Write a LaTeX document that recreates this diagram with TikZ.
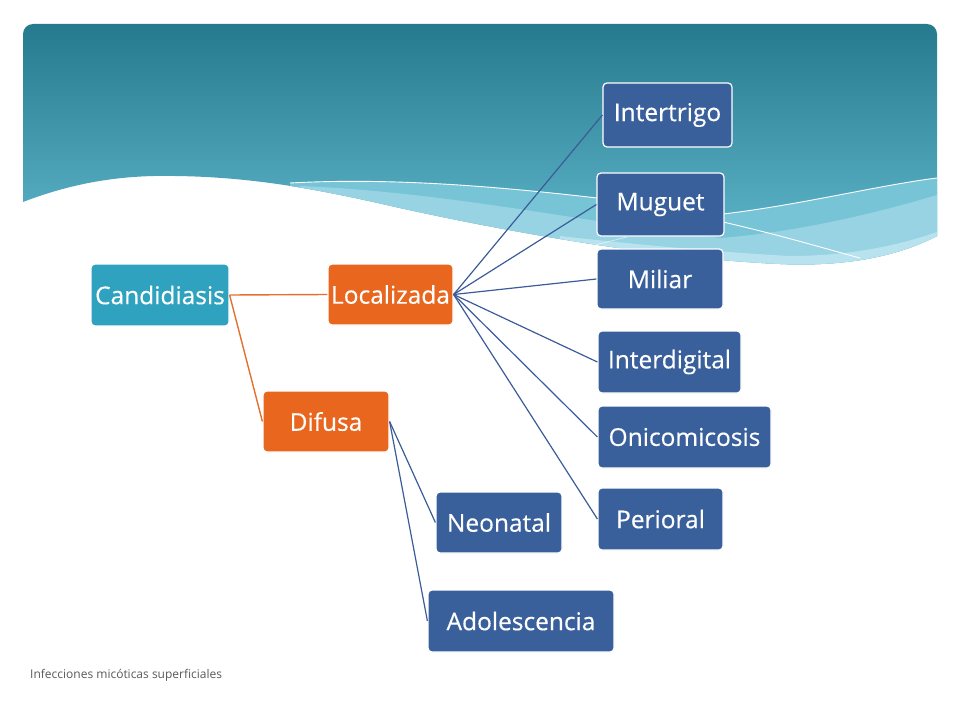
\documentclass[tikz,border=0pt]{standalone}
\usepackage{fontspec}
\setmainfont{Open Sans}
\definecolor{cteal}{HTML}{2EA2BF}
\definecolor{corange}{HTML}{E8661E}
\definecolor{cblue}{HTML}{3A609C}
\definecolor{lblue}{HTML}{3B5C98}
\definecolor{lorange}{HTML}{E3702F}
\definecolor{bgtop}{HTML}{267A8E}
\definecolor{bgbot}{HTML}{64BBCF}
\definecolor{bandA}{HTML}{78C4D7}
\definecolor{bandB}{HTML}{97D3E3}
\definecolor{bandC}{HTML}{B7E2EE}
\definecolor{foot}{HTML}{595959}
\tikzset{
  box/.style={draw=white, line width=1.2bp, rounded corners=4bp, text=white, inner sep=0pt,
    font=\fontsize{24.5bp}{28bp}\selectfont\addfontfeatures{FakeBold=0.4}},
  tealbox/.style={box, fill=cteal},
  orangebox/.style={box, fill=corange},
  bluebox/.style={box, fill=cblue},
  olink/.style={draw=lorange, line width=1.4bp},
  blink/.style={draw=lblue, line width=1.2bp},
}
\begin{document}
\begin{tikzpicture}[x=1bp, y=-1bp]
\useasboundingbox (0,0) rectangle (960,720);
% header background, its lower edge following the wave
\begin{scope}
  \clip (23,202) .. controls (80,180) and (130,175) .. (175,176)
      .. controls (260,177) and (330,192) .. (400,208)
      .. controls (500,230) and (650,258) .. (780,264)
      .. controls (850,267) and (900,255) .. (937,236)
      -- (937,34) .. controls (937,28.5) and (932.5,24) .. (927,24)
      -- (33,24) .. controls (27.5,24) and (23,28.5) .. (23,34) -- cycle;
  \shade[top color=bgtop, bottom color=bgbot] (23,24) rectangle (937,270);
  \fill[bandA] (290,183) .. controls (420,176) and (560,192) .. (723,214)
      .. controls (800,205) and (880,185) .. (937,178) -- (937,300) -- (290,300) -- cycle;
  \fill[bandB] (300,186) .. controls (450,192) and (600,225) .. (720,238)
      .. controls (800,232) and (880,212) .. (937,195) -- (937,300) -- (300,300) -- cycle;
  \fill[bandC] (560,236) .. controls (650,246) and (720,252) .. (790,256)
      .. controls (850,256) and (900,245) .. (937,232) -- (937,300) -- (560,300) -- cycle;
  \draw[white, line width=0.9bp] (290,183) .. controls (420,176) and (560,192) .. (723,214)
      .. controls (800,205) and (880,185) .. (937,178);
  \draw[white, line width=0.9bp] (723,222) .. controls (780,235) and (830,250) .. (860,258);
  \draw[white, line width=0.7bp, opacity=0.6] (587,247) -- (627,237);
\end{scope}
% nodes
\node[tealbox, minimum width=138bp, minimum height=62bp] (cand) at (160,295) {Candidiasis};
\node[orangebox, minimum width=125bp, minimum height=61bp] (loc) at (390.5,294.5) {Localizada};
\node[orangebox, minimum width=126bp, minimum height=61bp] (dif) at (326,421.5) {Difusa};
\node[bluebox, minimum width=129bp, minimum height=64bp] (intr) at (667.5,115) {Intertrigo};
\node[bluebox, minimum width=127bp, minimum height=63bp] (mug) at (660.5,204.5) {Muguet};
\node[bluebox, minimum width=126bp, minimum height=60bp] (mil) at (660,279) {Miliar};
\node[bluebox, minimum width=143bp, minimum height=62bp] (intd) at (669.5,362) {Interdigital};
\node[bluebox, minimum width=173bp, minimum height=62bp] (oni) at (684.5,437) {Onicomicosis};
\node[bluebox, minimum width=125bp, minimum height=62bp] (peri) at (660.5,519) {Perioral};
\node[bluebox, minimum width=126bp, minimum height=61bp] (neo) at (499,522.5) {Neonatal};
\node[bluebox, minimum width=186bp, minimum height=62bp] (ado) at (521,621) {Adolescencia};
% connectors
\draw[olink] (cand.east) -- (loc.west);
\draw[olink] (cand.east) -- (dif.west);
\foreach \t in {intr,mug,mil,intd,oni,peri} \draw[blink] (loc.east) -- (\t.west);
\foreach \t in {neo,ado} \draw[blink] (dif.east) -- (\t.west);
% footer
\node[anchor=west, text=foot, font=\fontsize{12bp}{14bp}\selectfont, inner sep=0pt] (footer) at (30,675) {Infecciones micóticas superficiales};
\end{tikzpicture}
\end{document}
